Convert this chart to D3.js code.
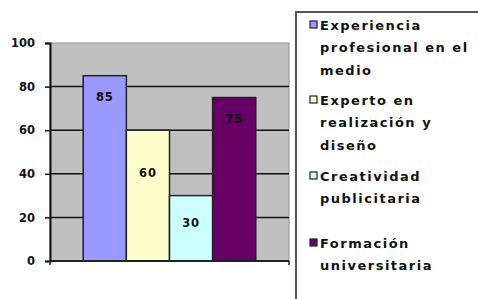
<!DOCTYPE html>
<html>
<head>
<meta charset="utf-8">
<script src="https://cdn.jsdelivr.net/npm/d3@7"></script>
<style>
  body { margin: 0; background: #fff; }
  svg { display: block; font-family: "DejaVu Sans", Verdana, sans-serif; font-weight: bold; }
</style>
</head>
<body>
<svg id="chart"></svg>
<script>
// Data
const categories = ["Experiencia profesional en el medio", "Experto en realización y diseño", "Creatividad publicitaria", "Formación universitaria"];
const values = [85, 60, 30, 75];
const colors = ["#9999ff", "#ffffcc", "#ccffff", "#660066"];
const yTicks = [0, 20, 40, 60, 80, 100];
const legendLines = [
    ["Experiencia", "profesional en el", "medio"],
    ["Experto en", "realización y", "diseño"],
    ["Creatividad", "publicitaria"],
    ["Formación", "universitaria"]
];

const width = 478, height = 299;
const plot = { left: 50, right: 289, top: 43, bottom: 261 };

const svg = d3.select("#chart")
    .attr("width", width)
    .attr("height", height);

// Scales
const x = d3.scaleBand()
    .domain(categories)
    .range([plot.left, plot.right])
    .paddingInner(0)
    .paddingOuter(0.77);

const y = d3.scaleLinear()
    .domain([0, 100])
    .range([plot.bottom, plot.top]);

// Plot background
svg.append("rect")
    .attr("x", plot.left)
    .attr("y", plot.top)
    .attr("width", plot.right - plot.left)
    .attr("height", plot.bottom - plot.top)
    .attr("fill", "#c0c0c0")
    .attr("stroke", "#909090")
    .attr("stroke-width", 1);

// Gridlines
svg.append("g")
    .selectAll("line")
    .data(yTicks.filter(t => t > 0 && t < 100))
    .enter()
    .append("line")
    .attr("x1", plot.left)
    .attr("x2", plot.right)
    .attr("y1", d => y(d))
    .attr("y2", d => y(d))
    .attr("stroke", "#111")
    .attr("stroke-width", 1.5);

// Bars
svg.append("g")
    .selectAll("rect")
    .data(values)
    .enter()
    .append("rect")
    .attr("x", (d, i) => x(categories[i]))
    .attr("y", d => y(d))
    .attr("width", x.bandwidth())
    .attr("height", d => y(0) - y(d))
    .attr("fill", (d, i) => colors[i])
    .attr("stroke", "#222")
    .attr("stroke-width", 1.5);

// Bar labels (offset below bar top, as placed in the original)
const labelOffset = [21, 43, 27, 21];
svg.append("g")
    .selectAll("text")
    .data(values)
    .enter()
    .append("text")
    .attr("x", (d, i) => x(categories[i]) + x.bandwidth() / 2)
    .attr("y", (d, i) => y(d) + labelOffset[i])
    .attr("dy", "0.35em")
    .attr("text-anchor", "middle")
    .attr("font-size", 11.5)
    .attr("letter-spacing", 0.8)
    .attr("fill", "#111")
    .text(d => d);

// Y axis
const yAxis = svg.append("g")
    .attr("transform", `translate(${plot.left},0)`)
    .call(d3.axisLeft(y).tickValues(yTicks).tickSize(5).tickPadding(10));
yAxis.select(".domain").attr("stroke", "#111").attr("stroke-width", 2);
yAxis.selectAll(".tick line").attr("stroke", "#111").attr("stroke-width", 1.5);
yAxis.selectAll(".tick text")
    .attr("font-size", 11.5)
    .attr("font-family", "DejaVu Sans, sans-serif")
    .attr("font-weight", "bold")
    .attr("fill", "#111");

// X axis line
svg.append("line")
    .attr("x1", plot.left)
    .attr("x2", plot.right)
    .attr("y1", plot.bottom)
    .attr("y2", plot.bottom)
    .attr("stroke", "#222")
    .attr("stroke-width", 2);
svg.append("g")
    .selectAll("line")
    .data([plot.left, plot.right])
    .enter()
    .append("line")
    .attr("x1", d => d)
    .attr("x2", d => d)
    .attr("y1", plot.bottom)
    .attr("y2", plot.bottom + 4)
    .attr("stroke", "#222")
    .attr("stroke-width", 1.5);

// Legend box
svg.append("path")
    .attr("d", `M${width + 2},12 H296 V${height + 2}`)
    .attr("fill", "none")
    .attr("stroke", "#555")
    .attr("stroke-width", 2);

const legendTops = [25, 100, 176, 243];
const lineHeight = 22.5;
const legend = svg.append("g")
    .selectAll("g")
    .data(categories)
    .enter()
    .append("g")
    .attr("transform", (d, i) => `translate(310, ${legendTops[i]})`);

legend.append("rect")
    .attr("x", 0)
    .attr("y", -4)
    .attr("width", 7)
    .attr("height", 7)
    .attr("fill", (d, i) => colors[i])
    .attr("stroke", "#222")
    .attr("stroke-width", 1.2);

legend.append("text")
    .attr("font-size", 13)
    .attr("letter-spacing", 1.5)
    .attr("fill", "#111")
    .selectAll("tspan")
    .data((d, i) => legendLines[i])
    .enter()
    .append("tspan")
    .attr("x", 10)
    .attr("y", (d, j) => j * lineHeight)
    .attr("dy", "0.35em")
    .text(d => d);
</script>
</body>
</html>
